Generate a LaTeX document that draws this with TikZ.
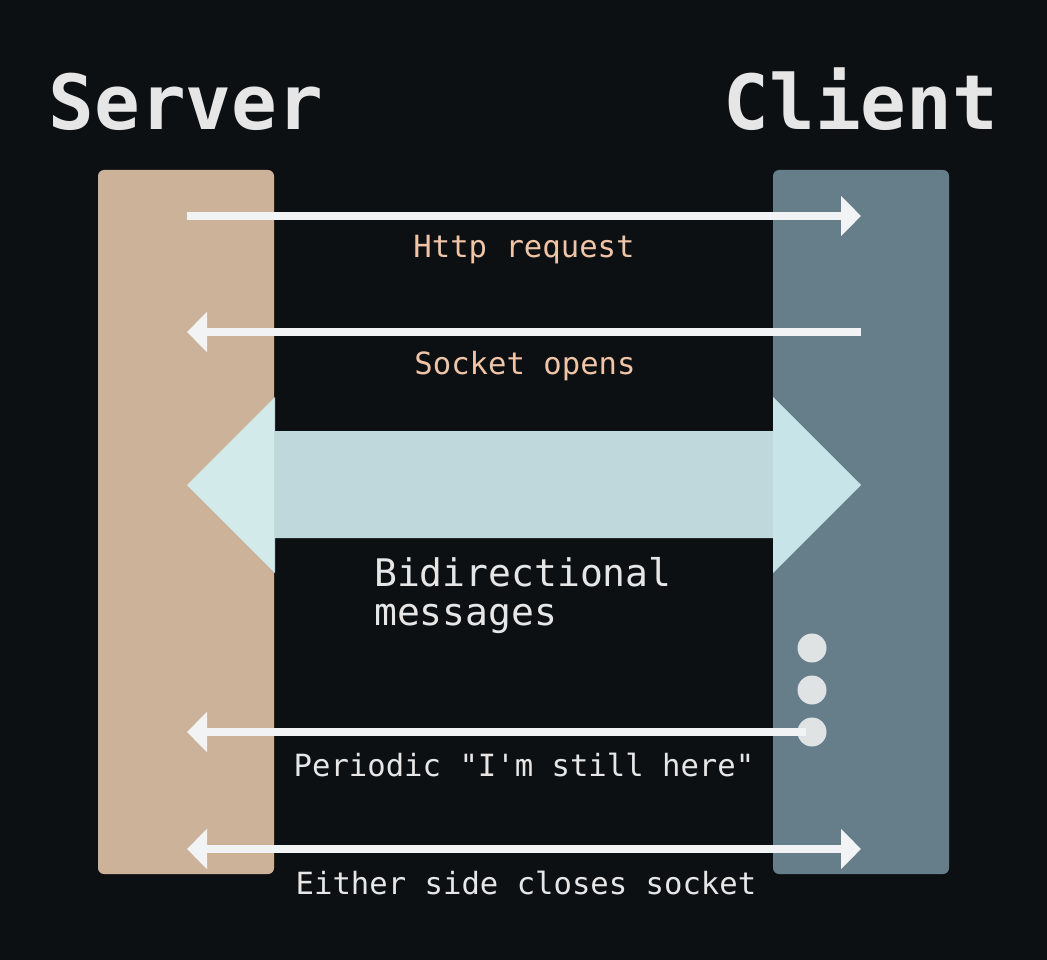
\documentclass[tikz,border=0pt]{standalone}
\usepackage{fontspec}
\newfontfamily\dmono{DejaVu Sans Mono}
\usetikzlibrary{arrows.meta}
\definecolor{bgcol}{HTML}{0D1013}
\definecolor{srvcol}{HTML}{CDB29A}
\definecolor{clicol}{HTML}{667D8A}
\definecolor{linecol}{HTML}{F2F3F5}
\definecolor{peach}{HTML}{F0C4A6}
\definecolor{lbl}{HTML}{E6E6E6}
\definecolor{dotcol}{HTML}{DFE3E4}
\definecolor{bigcol}{HTML}{D4F1F5}
\tikzset{
  sidebox/.style={rounded corners=6pt, minimum width=176pt, minimum height=704pt, inner sep=0pt, draw=none},
  title/.style={text=lbl, font=\dmono\bfseries\fontsize{76}{80}\selectfont, anchor=base, inner sep=0pt},
  msglbl/.style={font=\dmono\fontsize{30.6}{36}\selectfont, anchor=base, inner sep=0pt},
  bidilbl/.style={text=lbl, font=\dmono\fontsize{38}{40}\selectfont, anchor=base west, inner sep=0pt},
  msgline/.style={draw=linecol, line width=8pt},
  tip/.tip={Triangle[length=20pt,width=39pt]},
  dotnode/.style={circle, fill=dotcol, minimum size=29pt, inner sep=0pt, draw=none}
}
\begin{document}
\begin{tikzpicture}[x=1pt,y=-1pt]
\fill[bgcol] (0,0) rectangle (1047,960);
\useasboundingbox (0,0) rectangle (1047,960);
% titles
\node[title] (srvtitle) at (186,130) {Server};
\node[title] (clititle) at (861,130) {Client};
% boxes
\node[sidebox, fill=srvcol] (server) at (186,522) {};
\node[sidebox, fill=clicol] (client) at (861,522) {};
% coordinates
\coordinate (s1) at (187,216); \coordinate (c1) at (861,216);
\coordinate (s2) at (187,332); \coordinate (c2) at (861,332);
\coordinate (s3) at (187,732);
\coordinate (s4) at (187,849); \coordinate (c4) at (861,849);
% request / open
\draw[msgline, -tip] (s1) -- (c1);
\node[msglbl, text=peach] (lreq) at (524,258) {Http request};
\draw[msgline, -tip] (c2) -- (s2);
\node[msglbl, text=peach] (lopen) at (525,374) {Socket opens};
% big bidirectional arrow
\fill[bigcol, fill opacity=0.89] (187,485) -- (275,397) -- (275,431) -- (773,431) -- (773,397) -- (861,485) -- (773,573) -- (773,538) -- (275,538) -- (275,573) -- cycle;
\node[bidilbl] (bidi1) at (374,586) {Bidirectional};
\node[bidilbl] (bidi2) at (374,625) {messages};
% dots
\node[dotnode] (d1) at (812,648) {};
\node[dotnode] (d2) at (812,690) {};
\node[dotnode] (d3) at (812,732) {};
\draw[msgline, -tip] ([xshift=-6pt]d3.center) -- (s3);
\node[msglbl, text=lbl] (lping) at (524,776) {Periodic "I'm still here"};
% close
\draw[msgline, tip-tip] (s4) -- (c4);
\node[msglbl, text=lbl] (lclose) at (526,894) {Either side closes socket};
\end{tikzpicture}
\end{document}
